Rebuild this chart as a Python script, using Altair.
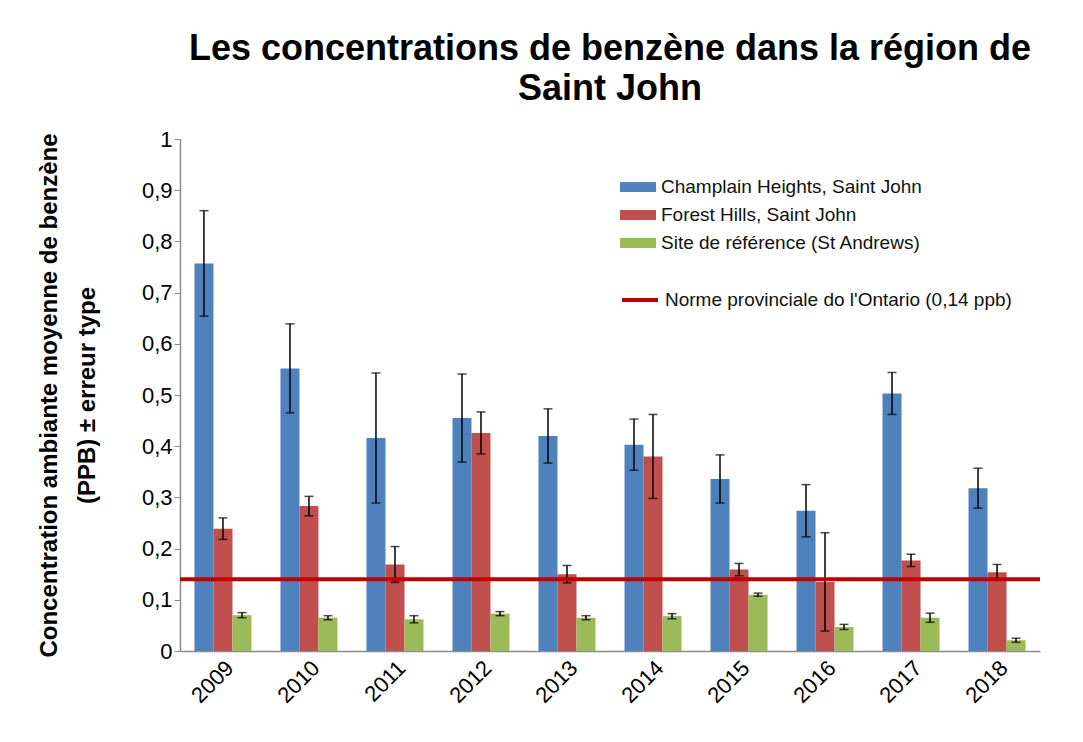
import altair as alt
import pandas as pd

years = ["2009", "2010", "2011", "2012", "2013", "2014", "2015", "2016", "2017", "2018"]
series = ["Champlain Heights, Saint John", "Forest Hills, Saint John", "Site de référence (St Andrews)"]
champlain = [0.757, 0.552, 0.416, 0.455, 0.420, 0.403, 0.336, 0.274, 0.503, 0.318]
champlain_err = [0.103, 0.087, 0.127, 0.086, 0.053, 0.050, 0.047, 0.051, 0.041, 0.039]
forest = [0.239, 0.283, 0.169, 0.426, 0.150, 0.380, 0.159, 0.135, 0.177, 0.154]
forest_err = [0.021, 0.019, 0.035, 0.041, 0.017, 0.082, 0.012, 0.096, 0.012, 0.015]
reference = [0.070, 0.065, 0.062, 0.073, 0.065, 0.068, 0.110, 0.047, 0.065, 0.021]
reference_err = [0.005, 0.004, 0.007, 0.004, 0.004, 0.005, 0.003, 0.005, 0.009, 0.004]
colors = ["#4F81BD", "#C0504D", "#9BBB59"]
norme_value = 0.14
norme_label = "Norme provinciale do l'Ontario (0,14 ppb)"
y_ticks = [0, 0.1, 0.2, 0.3, 0.4, 0.5, 0.6, 0.7, 0.8, 0.9, 1.0]

rows = []
for s, vals, errs in zip(series, [champlain, forest, reference], [champlain_err, forest_err, reference_err]):
    for y, v, e in zip(years, vals, errs):
        rows.append({"year": y, "series": s, "value": v, "err": e})
df = pd.DataFrame(rows)
norme_df = pd.DataFrame({"norme": [norme_value], "label": [norme_label]})

FONT = "Liberation Sans"

x_enc = alt.X("year:N", sort=years, title=None,
              scale=alt.Scale(paddingInner=0.337, paddingOuter=0.168),
              axis=alt.Axis(labelAngle=-45, labelFontSize=22, labelColor="#000", labelFont=FONT,
                            ticks=False, domainColor="#8c8c8c", domainWidth=1.5, labelPadding=6))
xoff = alt.XOffset("series:N", sort=series, scale=alt.Scale(domain=series))

y_axis = alt.Axis(values=y_ticks, format=".1~f", labelExpr="replace(datum.label, '.', ',')",
                  labelFontSize=22, labelColor="#000", labelFont=FONT, grid=False,
                  domainColor="#8c8c8c", domainWidth=1.5, tickColor="#8c8c8c", tickSize=6,
                  title=["Concentration ambiante moyenne de benzène", "(PPB) ± erreur type"],
                  titleFontSize=24, titleFont=FONT, titleFontWeight="bold", titleColor="#000",
                  titlePadding=42, titleLineHeight=38)

base = alt.Chart(df)

bars = base.mark_bar().encode(
    x=x_enc,
    xOffset=xoff,
    y=alt.Y("value:Q", scale=alt.Scale(domain=[0, 1]), axis=y_axis),
    color=alt.Color("series:N", sort=series,
                    scale=alt.Scale(domain=series, range=colors),
                    legend=alt.Legend(title=None, orient="none", legendX=440, legendY=30,
                                      symbolType="M-1,-0.28L1,-0.28L1,0.28L-1,0.28Z",
                                      symbolSize=1296, symbolStrokeWidth=0,
                                      labelFontSize=19, labelFont=FONT, labelColor="#111",
                                      labelLimit=0, rowPadding=-6, labelOffset=5)),
)

err_rule = base.transform_calculate(
    lo="datum.value - datum.err", hi="datum.value + datum.err"
).mark_rule(color="#000", strokeWidth=1.5).encode(
    x=alt.X("year:N", sort=years), xOffset=xoff,
    y="lo:Q", y2="hi:Q",
)
cap_lo = base.transform_calculate(lo="datum.value - datum.err").mark_tick(
    color="#000", thickness=1.5, size=9).encode(
    x=alt.X("year:N", sort=years), xOffset=xoff, y="lo:Q")
cap_hi = base.transform_calculate(hi="datum.value + datum.err").mark_tick(
    color="#000", thickness=1.5, size=9).encode(
    x=alt.X("year:N", sort=years), xOffset=xoff, y="hi:Q")

norme = alt.Chart(norme_df).mark_rule(strokeWidth=4).encode(
    y="norme:Q",
    stroke=alt.Stroke("label:N", scale=alt.Scale(range=["#C00000"]),
                      legend=alt.Legend(title=None, orient="none", legendX=440, legendY=141,
                                        symbolType="stroke", symbolSize=1296, symbolStrokeWidth=4,
                                        labelFontSize=19, labelFont=FONT, labelColor="#111",
                                        labelLimit=0, labelOffset=5)),
)

chart = alt.layer(bars, err_rule, cap_lo, cap_hi, norme).properties(
    width=860, height=512,
    title=alt.Title(["Les concentrations de benzène dans la région de", "Saint John"],
                    fontSize=36, font=FONT, fontWeight="bold",
                    anchor="middle", offset=20, lineHeight=40, color="#000"),
    autosize=alt.AutoSizeParams(type="none"),
    padding={"left": 172, "top": 131, "right": 35, "bottom": 80},
).configure(background="#ffffff", view=alt.ViewConfig(stroke=None))

chart.save("out.html", embed_options={"renderer": "svg", "actions": False})
